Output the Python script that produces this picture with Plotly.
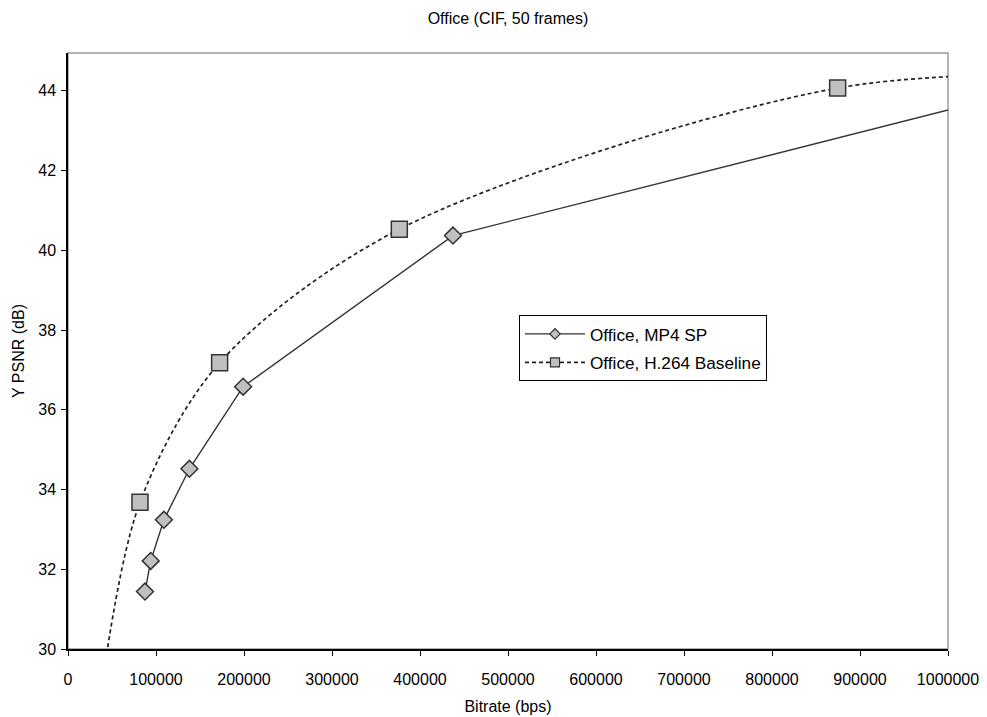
import plotly.graph_objects as go

# MP4 SP series (bitrate bps, Y PSNR dB); last point lies past the axis range
mp4_bitrate = [87500, 94000, 109000, 138000, 199000, 437500, 1200000]
mp4_psnr = [31.44, 32.21, 33.24, 34.52, 36.58, 40.37, 44.64]

# H.264 Baseline series; first/last points lie outside the axis range
h264_bitrate = [38000, 81800, 172300, 376500, 874600, 1200000]
h264_psnr = [29.0, 33.68, 37.18, 40.53, 44.07, 44.4]

x_ticks = [0, 100000, 200000, 300000, 400000, 500000, 600000, 700000, 800000, 900000, 1000000]
y_ticks = [30, 32, 34, 36, 38, 40, 42, 44]

FONT = "Liberation Sans, Arial, sans-serif"

W, H = 979, 709  # page body has an 8px margin

mp4_line = dict(color="#333333", width=1.4)
h264_line = dict(color="#222222", width=1.7, dash="4px,3px", shape="spline", smoothing=0.9)

fig = go.Figure()

fig.add_trace(go.Scatter(
    x=mp4_bitrate, y=mp4_psnr, mode="lines+markers",
    name="Office, MP4 SP", showlegend=False,
    line=mp4_line,
    marker=dict(symbol="diamond", size=13, color="#c0c0c0",
                line=dict(color="#333333", width=1.5)),
))

fig.add_trace(go.Scatter(
    x=h264_bitrate, y=h264_psnr, mode="lines+markers",
    name="Office, H.264 Baseline", showlegend=False,
    line=h264_line,
    marker=dict(symbol="square", size=16, color="#c0c0c0",
                line=dict(color="#333333", width=1.5)),
))

# legend-only entries with the small legend symbols
fig.add_trace(go.Scatter(
    x=[None], y=[None], mode="lines+markers", name="Office, MP4 SP",
    legendgroup="a", line=mp4_line,
    marker=dict(symbol="diamond", size=8, color="#c0c0c0",
                line=dict(color="#333333", width=1.2)),
))
fig.add_trace(go.Scatter(
    x=[None], y=[None], mode="lines+markers", name="Office, H.264 Baseline",
    legendgroup="b", line=dict(color="#222222", width=1.7, dash="4px,3px"),
    marker=dict(symbol="square", size=9, color="#c0c0c0",
                line=dict(color="#333333", width=1.2)),
))

fig.update_layout(
    width=W, height=H,
    margin=dict(l=60, r=39, t=45, b=68),
    paper_bgcolor="white", plot_bgcolor="white",
    font=dict(family=FONT, size=16, color="black"),
    title=dict(text="Office (CIF, 50 frames)", x=0.5, xref="paper",
               y=1 - 10 / H, yref="container", yanchor="middle",
               font=dict(family=FONT, size=16, color="black")),
    showlegend=True,
    legend=dict(x=0.5125, y=0.560, xanchor="left", yanchor="top",
                bgcolor="white", bordercolor="black", borderwidth=1,
                font=dict(family=FONT, size=17.2, color="black"),
                itemwidth=60, tracegroupgap=3, traceorder="grouped"),
    shapes=[dict(type="rect", xref="paper", yref="paper", x0=0, x1=1, y0=0, y1=1,
                 line=dict(color="#999999", width=1.5), layer="below")],
)

fig.update_xaxes(
    range=[0, 1000000], tickvals=x_ticks, ticktext=[str(v) for v in x_ticks],
    showgrid=False, zeroline=False,
    showline=True, linecolor="black", linewidth=1.5,
    ticks="outside", ticklen=5, tickcolor="black", tickwidth=1,
    ticklabelstandoff=10,
    tickfont=dict(family=FONT, size=16, color="black"),
    title=dict(text="Bitrate (bps)", standoff=14, font=dict(family=FONT, size=16)),
    automargin=False,
)
fig.update_yaxes(
    range=[30, 44.95], tickvals=y_ticks, ticktext=[str(v) for v in y_ticks],
    showgrid=False, zeroline=False,
    showline=True, linecolor="black", linewidth=1.5,
    ticks="outside", ticklen=5, tickcolor="black", tickwidth=1,
    ticklabelstandoff=2,
    tickfont=dict(family=FONT, size=16, color="black"),
    title=dict(text="Y PSNR (dB)", standoff=10, font=dict(family=FONT, size=16)),
    automargin=False,
)

fig.write_html("out.html")
